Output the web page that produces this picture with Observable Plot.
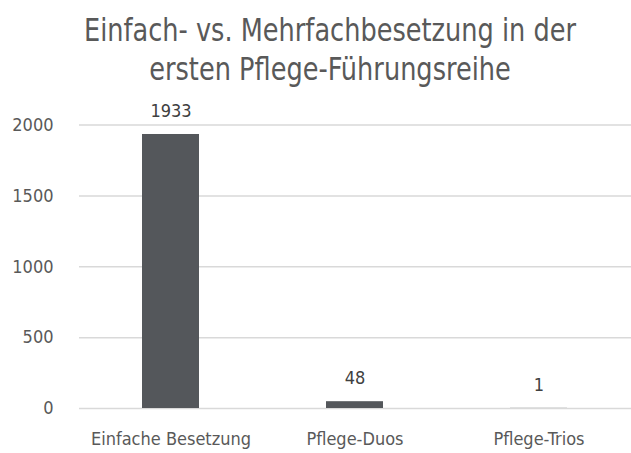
<!DOCTYPE html>
<html>
<head>
<meta charset="utf-8">
<script src="https://cdn.jsdelivr.net/npm/d3@7"></script>
<script src="https://cdn.jsdelivr.net/npm/@observablehq/plot@0.6"></script>
<style>
  html, body { margin: 0; padding: 0; background: #fff; }
  body { width: 631px; height: 453px; overflow: hidden; font-family: "DejaVu Sans Condensed", "DejaVu Sans", sans-serif; }
  #title { width: 631px; height: 100px; box-sizing: border-box; padding-top: 10.5px; padding-left: 29px; color: #595959; font-size: 32px; line-height: 39px; }
  #title div { text-align: center; transform: scaleX(0.89); transform-origin: 301px 0; white-space: nowrap; }
  #chart svg { display: block; }
</style>
</head>
<body>
<div id="title"><div>Einfach- vs. Mehrfachbesetzung in der<br>ersten Pflege-Führungsreihe</div></div>
<div id="chart"></div>
<script>
const categories = ["Einfache Besetzung", "Pflege-Duos", "Pflege-Trios"];
const values = [1933, 48, 1];
const yTicks = [0, 500, 1000, 1500, 2000];

const data = categories.map((c, i) => ({category: c, value: values[i]}));
const font = '"DejaVu Sans Condensed", "DejaVu Sans", sans-serif';

const chart = Plot.plot({
  width: 631,
  height: 353,
  marginLeft: 79,
  marginRight: 0,
  marginTop: 24.5,
  marginBottom: 45,
  style: {fontFamily: font, fontSize: "18px", color: "#595959", background: "#fff"},
  x: {domain: categories, paddingInner: 0.69, paddingOuter: 0.345, label: null},
  y: {domain: [0, 2000], ticks: yTicks, label: null},
  marks: [
    Plot.gridY(yTicks, {stroke: "#d9d9d9", strokeOpacity: 1, strokeWidth: 1.5}),
    Plot.barY(data, {x: "category", y: "value", fill: "#54575b"}),
    Plot.text(data, {x: "category", y: "value", text: d => String(d.value), dy: -23, fill: "#404040", fontSize: 18}),
    Plot.axisY(yTicks, {tickSize: 0, tickPadding: 26, fontSize: 18, label: null, fill: "#595959", tickFormat: d3.format("d")}),
    Plot.axisX({tickSize: 0, tickPadding: 24, fontSize: 18, label: null, fill: "#595959"})
  ]
});
document.getElementById("chart").appendChild(chart);
</script>
</body>
</html>
